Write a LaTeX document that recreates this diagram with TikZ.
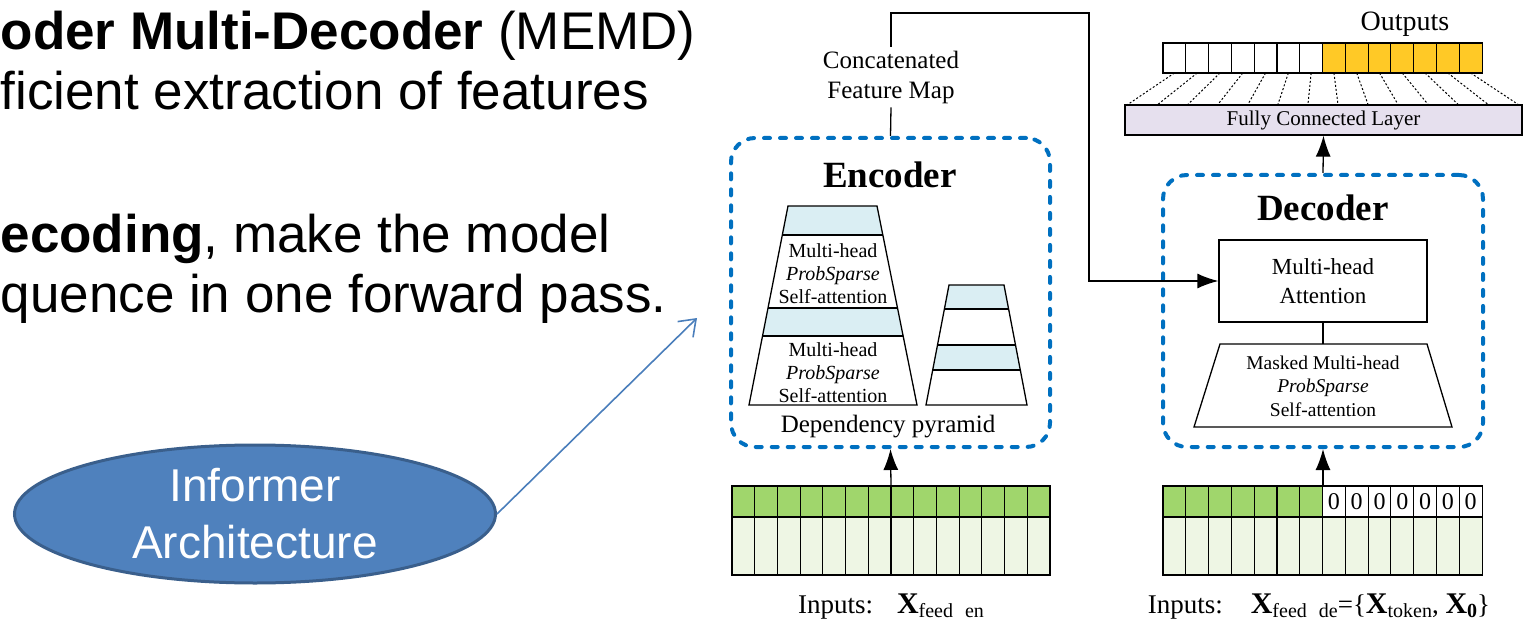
\documentclass[tikz,border=0pt]{standalone}
\usepackage{fontspec}
\setmainfont{Liberation Serif}
\newfontfamily\slidefont{Liberation Sans}
\usetikzlibrary{arrows.meta,positioning,shapes.geometric}
\definecolor{dashblue}{HTML}{0070C0}
\definecolor{bandblue}{HTML}{DAEEF3}
\definecolor{featgreen}{HTML}{A0D66C}
\definecolor{palegreen}{HTML}{EEF6E4}
\definecolor{outorange}{HTML}{FFC926}
\definecolor{fclilac}{HTML}{E6E0EE}
\definecolor{ovalblue}{HTML}{4F81BD}
\definecolor{ovalline}{HTML}{3A5F8C}
\definecolor{pointblue}{HTML}{4A7EBB}
\newcommand{\bX}[1]{{\fontsize{30}{30}\selectfont\textbf{X}}\raisebox{-0.3ex}{\fontsize{20}{20}\selectfont#1}}

\begin{document}
\begin{tikzpicture}[x=1pt,y=-1pt,line width=1.3pt,
  arr/.style={-{Latex[length=21pt,width=15pt]}},
  slide/.style={font=\slidefont\fontsize{53}{60}\selectfont,anchor=base west,inner sep=0},
  dashbox/.style={draw=dashblue,line width=4pt,line cap=round,dash pattern=on 6pt off 10pt,rounded corners=24pt},
  title/.style={font=\bfseries\fontsize{37}{40}\selectfont,anchor=base},
  layer/.style={align=center,font=\fontsize{20}{23}\selectfont,inner sep=0},
  lbl/.style={font=\fontsize{25}{30}\selectfont,align=center},
  cell/.style={draw,line width=1.1pt},
  fan/.style={line width=1pt,dash pattern=on 2pt off 2pt}]
\useasboundingbox (0,0) rectangle (1535,623);
\node[slide] (t1) at (0,50) {{\bfseries oder Multi-Decoder} (MEMD)};
\node[slide] (t2) at (0,110) {ficient extraction of features};
\node[slide] (t3) at (0,252) {{\bfseries ecoding}, make the model};
\node[slide] (t4) at (0,312) {quence in one forward pass.};
\node[ellipse,draw=ovalline,line width=3pt,fill=ovalblue,minimum width=481,minimum height=138,
  align=center,text=white,font=\slidefont\fontsize{46}{57}\selectfont] (inf) at (255,514) {Informer\\Architecture};
\coordinate (tip) at (697,318);
\draw[pointblue,line width=1.6pt,-{Straight Barb[length=15pt,width=22pt]}] (inf.east) -- (tip);
% encoder
\node[dashbox,minimum width=319,minimum height=309] (enc) at (890.5,292.5) {};
\node[title] (enct) at (890,188) {Encoder};
\begin{scope}
\clip (749,405) -- (788,206) -- (877,206) -- (917,405) -- cycle;
\fill[bandblue] (740,206) rectangle (925,235) (740,308) rectangle (925,336);
\draw (740,235) -- (925,235) (740,308) -- (925,308) (740,336) -- (925,336);
\end{scope}
\draw (749,405) -- (788,206) -- (877,206) -- (917,405) -- cycle;
\node[layer] (att1) at (833,274) {Multi-head\\\textit{ProbSparse}\\Self-attention};
\node[layer] (att2) at (833,373) {Multi-head\\\textit{ProbSparse}\\Self-attention};
\begin{scope}
\clip (926,405) -- (949,285) -- (1004,285) -- (1027,405) -- cycle;
\fill[bandblue] (920,285) rectangle (1030,309) (920,345) rectangle (1030,370);
\draw (920,309) -- (1030,309) (920,345) -- (1030,345) (920,370) -- (1030,370);
\end{scope}
\draw (926,405) -- (949,285) -- (1004,285) -- (1027,405) -- cycle;
\node[lbl] (pyr) at (888,427) {Dependency pyramid};
\node[lbl] (cfm) at (891,77) {Concatenated\\Feature Map};
\draw (enc.north) -- (cfm.south);
\coordinate (turn) at (1089,13);
% decoder
\node[dashbox,minimum width=320,minimum height=272] (dec) at (1323,311) {};
\node[title] (dect) at (1323,220) {Decoder};
\node[draw,minimum width=208,minimum height=82,align=center,font=\fontsize{23}{29}\selectfont] (mha) at (1323,281) {Multi-head\\Attention};
\draw (1220,344) -- (1427,344) -- (1452,427) -- (1194,427) -- cycle;
\coordinate (mask) at (1323,344);
\node[layer,font=\fontsize{19.5}{23.5}\selectfont] (matt) at (1323,386) {Masked Multi-head\\\textit{ProbSparse}\\Self-attention};
\draw (mha) -- (mask);
\draw[arr] (cfm) |- (turn) |- (mha);
% outputs
\foreach \i in {0,...,13} \draw[fan] ({1174.4+\i*22.79},73) -- ({1127+\i*30.15},105);
\foreach \i in {0,...,6} \draw[cell,fill=white] ({1163+\i*22.79},43) rectangle ++(22.79,30);
\foreach \i in {7,...,13} \draw[cell,fill=outorange] ({1163+\i*22.79},43) rectangle ++(22.79,30);
\node[font=\fontsize{28}{28}\selectfont] (out) at (1405,24) {Outputs};
\node[draw,fill=fclilac,minimum width=397,minimum height=30,inner sep=0,font=\fontsize{21}{21}\selectfont] (fc) at (1323.5,120) {Fully Connected Layer};
\draw[arr] (dec.north) -- (fc.south);
% inputs
\foreach \i in {0,...,13} {
  \draw[cell,fill=featgreen] ({732+\i*22.71},486) rectangle ++(22.71,31);
  \draw[cell,fill=palegreen] ({732+\i*22.71},517) rectangle ++(22.71,58);
  \draw[cell,fill=palegreen] ({1163+\i*22.79},517) rectangle ++(22.79,58);
}
\foreach \i in {0,...,6} \draw[cell,fill=featgreen] ({1163+\i*22.79},486) rectangle ++(22.79,31);
\foreach \i in {7,...,13} {
  \draw[cell] ({1163+\i*22.79},486) rectangle ++(22.79,31);
  \node[font=\fontsize{24}{24}\selectfont] (z\i) at ({1163+(\i+0.5)*22.79},501.5) {0};
}
\node[minimum width=318,minimum height=89,inner sep=0] (encin) at (891,530.5) {};
\node[minimum width=319,minimum height=89,inner sep=0] (decin) at (1322.5,530.5) {};
\draw[arr] (encin.north) -- (enc.south);
\draw[arr] (1323,486) -- (dec.south);
\node[font=\fontsize{27}{27}\selectfont] (encx) at (891,607) {Inputs:\hspace{24pt}\bX{feed\hspace{12pt}en}};
\node[font=\fontsize{27}{27}\selectfont] (decx) at (1319,607) {Inputs:\hspace{28pt}\bX{feed\hspace{12pt}de}=\{\bX{token}, \bX{\textbf{0}}\}};
\end{tikzpicture}
\end{document}
